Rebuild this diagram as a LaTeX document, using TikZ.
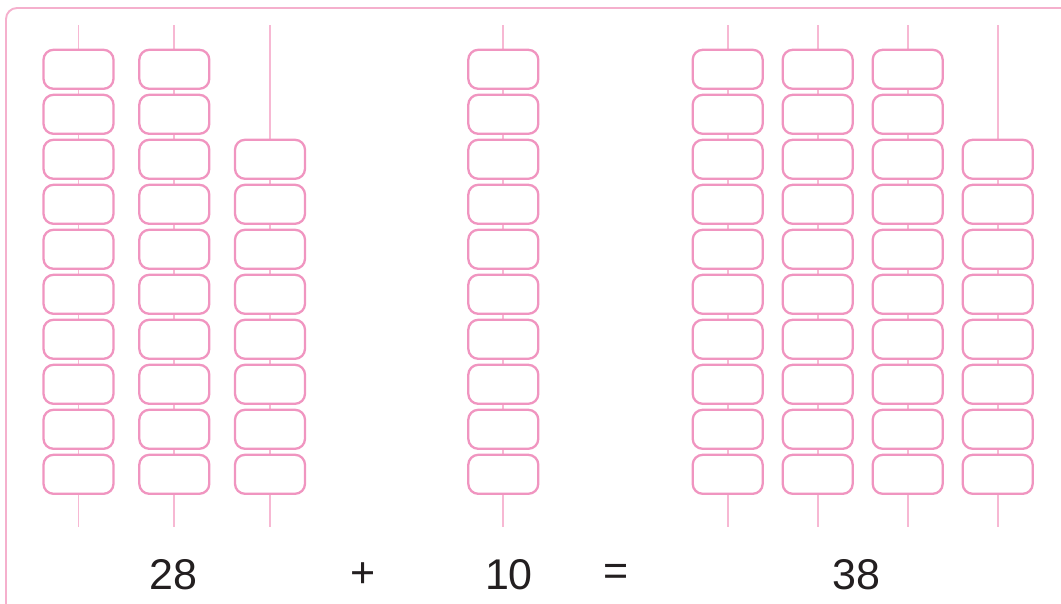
\documentclass[tikz,border=0pt]{standalone}
\usepackage{fontspec}
\setmainfont{Liberation Sans}
\definecolor{beadpink}{HTML}{F095C0}
\definecolor{rodpink}{HTML}{F7B8D3}
\definecolor{framepink}{HTML}{F5B0CD}
\definecolor{txt}{HTML}{231F20}
\tikzset{
  bead/.style={draw=beadpink, line width=2.3pt, fill=white, rounded corners=10pt,
    minimum width=70pt, minimum height=39pt, inner sep=0pt},
  rod/.style={draw=rodpink, line width=1.9pt},
  numtxt/.style={text=txt, font=\fontsize{43}{50}\selectfont, inner sep=0pt}
}
\begin{document}
\begin{tikzpicture}[x=1pt,y=-1pt]
\useasboundingbox (0,0) rectangle (1061,603);
\begin{scope}
\clip (0,0) rectangle (1061,603);
\draw[framepink, line width=1.9pt, rounded corners=11pt] (6,8) rectangle (1080,620);
\end{scope}
% columns: x position / first bead row
\foreach \cx/\first [count=\c] in {78.5/1, 174.3/1, 270/3, 503.3/1, 727.7/1, 817.7/1, 907.7/1, 997.7/3}{
  \coordinate (top\c) at (\cx,25);
  \coordinate (bot\c) at (\cx,527);
  \draw[rod] (top\c) -- (bot\c);
  \foreach \r in {\first,...,10}{
    \node[bead] (b\c-\r) at (\cx,{69.3+45*(\r-1)}) {};
  }
}
\node[numtxt] (n1) at (173.7,575) {28};
\node[numtxt] (plus) at (363,575) {+};
\node[numtxt] (n2) at (509,575) {10};
\node[numtxt] (eq) at (616,575) {=};
\node[numtxt] (n3) at (856.7,575) {38};
\end{tikzpicture}
\end{document}
